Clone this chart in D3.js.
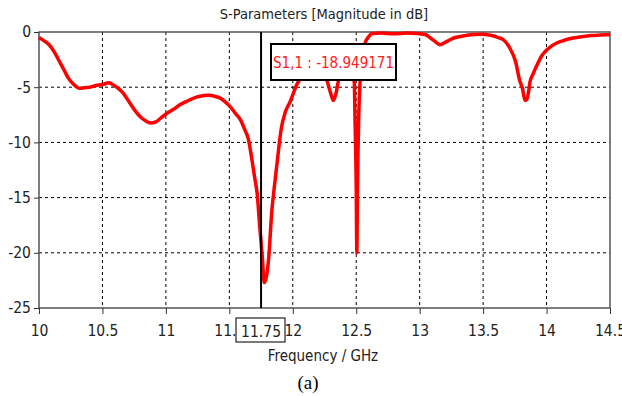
<!DOCTYPE html>
<html>
<head>
<meta charset="utf-8">
<script src="https://cdn.jsdelivr.net/npm/d3@7"></script>
<style>
  body { margin: 0; background: #fff; }
  text { font-family: "DejaVu Sans Condensed", "DejaVu Sans", sans-serif; }
</style>
</head>
<body>
<script>
// frequency (GHz) and S1,1 (dB)
const freq = [10.00, 10.04, 10.08, 10.12, 10.16, 10.20, 10.23, 10.27, 10.32, 10.36, 10.40, 10.45, 10.50, 10.55, 10.58,
  10.62, 10.66, 10.69, 10.72, 10.76, 10.80, 10.84, 10.88, 10.92, 10.96, 11.01, 11.06, 11.11, 11.17, 11.24, 11.30, 11.34,
  11.38, 11.43, 11.47, 11.51, 11.55, 11.59, 11.62, 11.65, 11.68, 11.70, 11.72, 11.74, 11.76, 11.775, 11.79, 11.81, 11.835,
  11.855, 11.875, 11.91, 11.94, 11.98, 12.03, 12.06, 12.10, 12.15, 12.20, 12.24, 12.27, 12.30, 12.32, 12.34, 12.36, 12.40,
  12.44, 12.47, 12.485, 12.49, 12.50, 12.505, 12.51, 12.52, 12.53, 12.55, 12.57, 12.60, 12.62, 12.70, 12.80, 12.90, 13.00,
  13.05, 13.08, 13.12, 13.16, 13.20, 13.24, 13.28, 13.32, 13.40, 13.48, 13.56, 13.62, 13.66, 13.71, 13.755, 13.79, 13.81,
  13.83, 13.845, 13.86, 13.87, 13.89, 13.925, 13.96, 13.99, 14.03, 14.08, 14.14, 14.21, 14.28, 14.35, 14.42, 14.50];
const s11 = [-0.5, -0.8, -1.15, -1.8, -2.65, -3.5, -4.16, -4.7, -5.1, -5.05, -5.0, -4.85, -4.76, -4.6, -4.75,
  -5.06, -5.5, -5.97, -6.5, -7.17, -7.7, -8.05, -8.25, -8.15, -7.8, -7.35, -7.0, -6.6, -6.25, -5.9, -5.75, -5.72,
  -5.8, -6.0, -6.35, -6.8, -7.4, -8.0, -8.8, -9.7, -11.7, -13.2, -14.7, -17.7, -20.4, -22.7, -22.3, -20.5, -16.2,
  -14.0, -12.0, -8.7, -7.3, -6.3, -4.8, -4.2, -3.3, -2.6, -2.5, -3.2, -4.4, -5.6, -6.2, -5.6, -4.4, -3.3,
  -3.2, -3.8, -4.6, -7.6, -14.0, -20.0, -14.0, -7.6, -4.6, -2.5, -1.0, -0.4, -0.15, -0.1, -0.15, -0.1, -0.15,
  -0.25, -0.5, -0.85, -1.15, -0.95, -0.7, -0.5, -0.4, -0.25, -0.2, -0.3, -0.5, -0.7, -1.45, -2.65, -4.46, -5.1,
  -6.2, -6.1, -5.3, -4.5, -3.9, -3.0, -2.2, -1.75, -1.35, -1.0, -0.75, -0.55, -0.42, -0.32, -0.28, -0.25];

const xTicks = [10, 10.5, 11, 11.5, 12, 12.5, 13, 13.5, 14, 14.5];
const yTicks = [0, -5, -10, -15, -20, -25];
const markerFreq = 11.75;
const markerLabel = "S1,1 : -18.949171";

const width = 622, height = 396;
const svg = d3.select('body').append('svg')
  .attr('width', width)
  .attr('height', height);

const x = d3.scaleLinear().domain([10, 14.5]).range([39, 610]);
const y = d3.scaleLinear().domain([-25, 0]).range([308, 32]);

// plain hyphen minus like the original software
const fmt = d => String(d);

// title
svg.append('text')
  .attr('x', 324).attr('y', 19)
  .attr('text-anchor', 'middle')
  .attr('font-size', 14.5).attr('fill', '#222')
  .text('S-Parameters [Magnitude in dB]');

// dashed grid
svg.append('g').selectAll('line.gx')
  .data(xTicks.slice(1, -1)).enter().append('line')
  .attr('x1', d => x(d)).attr('x2', d => x(d))
  .attr('y1', y(0)).attr('y2', y(-25))
  .attr('stroke', '#000').attr('stroke-dasharray', '3,3');
svg.append('g').selectAll('line.gy')
  .data(yTicks.slice(1, -1)).enter().append('line')
  .attr('x1', x(10)).attr('x2', x(14.5))
  .attr('y1', d => y(d)).attr('y2', d => y(d))
  .attr('stroke', '#000').attr('stroke-dasharray', '3,3');

// frame
svg.append('rect')
  .attr('x', x(10)).attr('y', y(0))
  .attr('width', x(14.5) - x(10)).attr('height', y(-25) - y(0))
  .attr('fill', 'none').attr('stroke', '#555').attr('stroke-width', 1.5);

// axes
const xAxis = svg.append('g')
  .attr('transform', `translate(0,${y(-25)})`)
  .call(d3.axisBottom(x).tickValues(xTicks).tickSize(6).tickPadding(11).tickFormat(fmt));
const yAxis = svg.append('g')
  .attr('transform', `translate(${x(10)},0)`)
  .call(d3.axisLeft(y).tickValues(yTicks).tickSize(5).tickPadding(3).tickFormat(fmt));
[xAxis, yAxis].forEach(a => {
  a.select('.domain').remove();
  a.selectAll('line').attr('stroke', '#333');
  a.selectAll('text').attr('font-size', 15.5).attr('fill', '#222')
    .style('font-family', '"DejaVu Sans Condensed", "DejaVu Sans", sans-serif');
});

// curve
const pts = freq.map((f, i) => [f, s11[i]]);
svg.append('path')
  .datum(pts)
  .attr('fill', 'none')
  .attr('stroke', '#ff0000')
  .attr('stroke-width', 3.5)
  .attr('stroke-linejoin', 'round')
  .attr('d', d3.line().x(d => x(d[0])).y(d => y(d[1])).curve(d3.curveMonotoneX));

// marker line
svg.append('line')
  .attr('x1', x(markerFreq)).attr('x2', x(markerFreq))
  .attr('y1', y(0)).attr('y2', y(-25))
  .attr('stroke', '#000').attr('stroke-width', 2);

// marker readout box
svg.append('rect')
  .attr('x', 271).attr('y', 44).attr('width', 125).attr('height', 36)
  .attr('fill', '#fff').attr('stroke', '#000').attr('stroke-width', 2);
svg.append('text')
  .attr('x', 333.5).attr('y', 67.5)
  .attr('text-anchor', 'middle')
  .attr('font-size', 15).attr('fill', '#ff2020')
  .text(markerLabel);

// boxed marker tick label
svg.append('rect')
  .attr('x', 236).attr('y', 318).attr('width', 49).attr('height', 24)
  .attr('fill', '#fff').attr('stroke', '#222').attr('stroke-width', 1.2);
svg.append('text')
  .attr('x', x(markerFreq)).attr('y', 336.5)
  .attr('text-anchor', 'middle')
  .attr('font-size', 15.5).attr('fill', '#222')
  .text(markerFreq);

// axis title
svg.append('text')
  .attr('x', 323).attr('y', 361)
  .attr('text-anchor', 'middle')
  .attr('font-size', 15).attr('fill', '#222')
  .text('Frequency / GHz');

// caption
svg.append('text')
  .attr('x', 308).attr('y', 389)
  .attr('text-anchor', 'middle')
  .attr('font-size', 19).attr('fill', '#000')
  .style('font-family', '"Liberation Serif", "Times New Roman", serif')
  .text('(a)');
</script>
</body>
</html>
